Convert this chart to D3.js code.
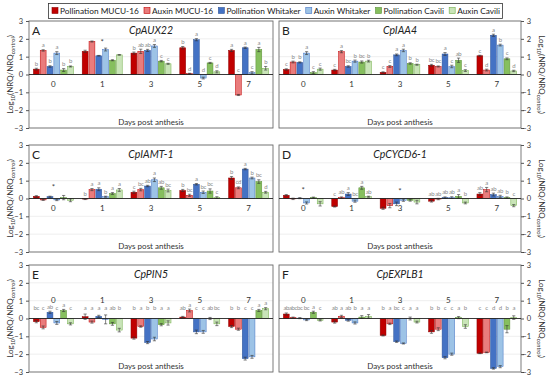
<!DOCTYPE html>
<html>
<head>
<meta charset="utf-8">
<script src="https://cdn.jsdelivr.net/npm/d3@7"></script>
<style>
  body { margin: 0; background: #fff; }
  text { font-family: Lato, "Open Sans", sans-serif; }
</style>
</head>
<body>
<svg id="chart" width="550" height="381"></svg>
<script>
// categories and series
const days = ["0", "1", "3", "5", "7"];
const seriesNames = ["Pollination MUCU-16", "Auxin MUCU-16", "Pollination Whitaker", "Auxin Whitaker", "Pollination Cavili", "Auxin Cavili"];
const seriesFill = ["#c00000", "#e97c7c", "#4472c4", "#9dc3e6", "#86bf5e", "#c9e4b8"];
const seriesStroke = ["#8c0000", "#c00000", "#2f5597", "#4472c4", "#5a8f37", "#70ad47"];
const yTicks = [-3, -2, -1, 0, 1, 2, 3];

// CpAUX22
const aux22Values = [
  [0.30, 1.35, 0.45, 1.20, 0.25, 0.45],
  [1.30, 1.85, 1.05, 1.40, 0.80, 1.10],
  [1.20, 1.30, 1.35, 1.60, 0.75, 0.60],
  [1.50, 0.05, 1.95, -0.20, 0.65, 0.15],
  [1.35, -1.15, 1.50, 0.10, 1.40, 0.35]];
const aux22Err = [
  [0.05, 0.04, 0.04, 0.08, 0.08, 0.03],
  [0.06, 0.03, 0.02, 0.08, 0.03, 0.02],
  [0.06, 0.12, 0.06, 0.08, 0.04, 0.03],
  [0.07, 0.02, 0.06, 0.05, 0.03, 0.06],
  [0.06, 0.03, 0.04, 0.06, 0.12, 0.10]];
const aux22Letters = [
  ["b", "a", "b", "a", "b", "b"],
  ["", "", "", "", "", ""],
  ["b", "ab", "ab", "a", "c", "c"],
  ["b", "d", "a", "d", "c", "d"],
  ["a", "c", "a", "c", "a", "b"]];
const aux22Stars = [{ day: "1", y: 1.8 }];

// CpIAA4
const iaa4Values = [
  [0.28, 0.70, 0.68, 1.20, 0.10, 0.30],
  [0.25, 1.28, 0.45, 0.75, 0.70, 0.75],
  [0.12, 0.45, 1.10, 1.35, 0.62, 0.55],
  [0.52, 0.45, 1.15, 0.45, 0.80, 0.22],
  [1.05, 0.25, 2.20, 1.65, 0.88, 0.20]];
const iaa4Err = [
  [0.04, 0.05, 0.03, 0.08, 0.06, 0.06],
  [0.04, 0.06, 0.04, 0.06, 0.06, 0.05],
  [0.03, 0.05, 0.05, 0.07, 0.04, 0.03],
  [0.05, 0.03, 0.08, 0.07, 0.12, 0.05],
  [0.03, 0.05, 0.06, 0.05, 0.05, 0.04]];
const iaa4Letters = [
  ["c", "b", "b", "a", "c", "c"],
  ["c", "a", "bc", "b", "bc", "b"],
  ["c", "c", "a", "a", "b", "b"],
  ["bc", "bc", "a", "c", "ab", "c"],
  ["c", "d", "a", "b", "c", "d"]];
const iaa4Stars = [];

// CpIAMT-1
const iamt1Values = [
  [0.12, -0.08, 0.10, -0.08, 0.05, -0.10],
  [-0.03, 0.50, 0.52, 0.10, 0.28, 0.48],
  [0.35, 0.50, 0.70, 1.05, 0.60, 0.45],
  [0.45, 0.18, 0.80, 0.35, 0.42, 0.05],
  [1.15, 0.60, 1.65, 1.15, 0.95, 0.35]];
const iamt1Err = [
  [0.04, 0.03, 0.03, 0.04, 0.12, 0.08],
  [0.03, 0.06, 0.08, 0.03, 0.05, 0.08],
  [0.06, 0.07, 0.04, 0.10, 0.08, 0.08],
  [0.06, 0.06, 0.04, 0.07, 0.12, 0.05],
  [0.08, 0.05, 0.04, 0.05, 0.10, 0.05]];
const iamt1Letters = [
  ["", "", "", "", "", ""],
  ["b", "a", "a", "b", "a", "a"],
  ["c", "bc", "ab", "a", "ab", "bc"],
  ["b", "bc", "a", "bc", "bc", "c"],
  ["b", "cd", "a", "b", "bc", "d"]];
const iamt1Stars = [{ day: "0", y: 0.65 }];

// CpCYCD6-1
const cycd61Values = [
  [0.18, -0.02, 0.02, -0.25, 0.05, -0.30],
  [-0.45, 0.05, 0.25, -0.15, 0.60, 0.10],
  [-0.55, -0.40, -0.30, -0.10, -0.10, -0.20],
  [-0.15, -0.03, 0.05, 0.05, 0.12, -0.25],
  [0.25, 0.50, 0.22, 0.12, 0.05, -0.40]];
const cycd61Err = [
  [0.04, 0.04, 0.03, 0.06, 0.03, 0.12],
  [0.03, 0.04, 0.08, 0.06, 0.08, 0.03],
  [0.06, 0.12, 0.10, 0.06, 0.05, 0.10],
  [0.05, 0.04, 0.04, 0.05, 0.10, 0.05],
  [0.08, 0.12, 0.08, 0.06, 0.04, 0.06]];
const cycd61Letters = [
  ["", "", "", "", "", ""],
  ["c", "ab", "a", "bc", "a", "ab"],
  ["", "", "", "", "", ""],
  ["ab", "ab", "ab", "ab", "a", "b"],
  ["ab", "a", "ab", "ab", "b", "c"]];
const cycd61Stars = [{ day: "0", y: 0.45 }, { day: "3", y: 0.4 }];

// CpPIN5
const pin5Values = [
  [-0.18, -0.50, 0.35, -0.25, 0.45, -0.30],
  [0.10, -0.20, 0.12, -0.05, -0.30, -0.65],
  [-1.10, -0.45, -1.35, -1.15, -0.35, -0.25],
  [0.08, 0.45, -0.75, -0.75, 0.00, -0.30],
  [-0.45, -0.60, -2.25, -2.15, 0.45, 0.55]];
const pin5Err = [
  [0.06, 0.08, 0.06, 0.08, 0.06, 0.06],
  [0.15, 0.06, 0.06, 0.25, 0.08, 0.10],
  [0.06, 0.04, 0.06, 0.10, 0.06, 0.12],
  [0.04, 0.08, 0.10, 0.08, 0.06, 0.10],
  [0.06, 0.06, 0.08, 0.08, 0.06, 0.06]];
const pin5Letters = [
  ["bc", "c", "ab", "c", "a", "c"],
  ["a", "a", "a", "a", "ab", "b"],
  ["b", "a", "b", "b", "a", "a"],
  ["ab", "a", "c", "c", "ab", "bc"],
  ["b", "b", "c", "c", "a", "a"]];
const pin5Stars = [];

// CpEXPLB1
const explb1Values = [
  [0.25, 0.05, 0.02, -0.08, 0.35, -0.10],
  [-0.20, 0.12, -0.10, -0.25, 0.08, 0.12],
  [-0.95, -0.30, -1.30, -1.40, 0.00, -0.20],
  [-0.75, -0.60, -2.20, -2.00, 0.05, -0.45],
  [-1.95, -1.90, -2.80, -2.70, -0.60, 0.05]];
const explb1Err = [
  [0.06, 0.03, 0.03, 0.04, 0.06, 0.04],
  [0.06, 0.06, 0.05, 0.06, 0.08, 0.10],
  [0.03, 0.04, 0.04, 0.03, 0.08, 0.05],
  [0.08, 0.08, 0.06, 0.06, 0.06, 0.10],
  [0.02, 0.02, 0.04, 0.06, 0.20, 0.10]];
const explb1Letters = [
  ["ab", "abc", "bc", "bc", "a", "c"],
  ["ab", "a", "ab", "b", "a", "a"],
  ["b", "a", "bc", "c", "a", "a"],
  ["b", "b", "c", "c", "a", "b"],
  ["c", "c", "d", "d", "b", "a"]];
const explb1Stars = [];

const panels = [
  { tag: "A", gene: "CpAUX22", values: aux22Values, err: aux22Err, letters: aux22Letters, stars: aux22Stars, col: 0, row: 0 },
  { tag: "B", gene: "CpIAA4", values: iaa4Values, err: iaa4Err, letters: iaa4Letters, stars: iaa4Stars, col: 1, row: 0 },
  { tag: "C", gene: "CpIAMT-1", values: iamt1Values, err: iamt1Err, letters: iamt1Letters, stars: iamt1Stars, col: 0, row: 1 },
  { tag: "D", gene: "CpCYCD6-1", values: cycd61Values, err: cycd61Err, letters: cycd61Letters, stars: cycd61Stars, col: 1, row: 1 },
  { tag: "E", gene: "CpPIN5", values: pin5Values, err: pin5Err, letters: pin5Letters, stars: pin5Stars, col: 0, row: 2, labelsAbove: true },
  { tag: "F", gene: "CpEXPLB1", values: explb1Values, err: explb1Err, letters: explb1Letters, stars: explb1Stars, col: 1, row: 2, labelsAbove: true }
];

const svg = d3.select("#chart");
const colX = [[29, 273], [279, 521]];
const rowY = [[21, 128], [145, 252], [265, 372]];

// legend: measure the labels, then spread them across the box
const legend = svg.append("g");
legend.append("rect")
  .attr("x", 48.5).attr("y", 3.5).attr("width", 454).attr("height", 15)
  .attr("fill", "#fff").attr("stroke", "#333").attr("stroke-width", 0.8);
const legendItems = legend.selectAll("g.item").data(seriesNames).join("g")
  .attr("class", "item");
const legendText = legendItems.append("text")
  .attr("y", 13.8).attr("font-size", 8.3).attr("fill", "#222")
  .text(d => d);
const widths = [];
legendText.each(function () { widths.push(this.getComputedTextLength() + 8); });
const gap = (448 - d3.sum(widths)) / (seriesNames.length - 1);
let cursor = 52;
const starts = widths.map(w => { const s = cursor; cursor += w + gap; return s; });
legendText.attr("x", (d, i) => starts[i] + 8);
legendItems.append("rect")
  .attr("x", (d, i) => starts[i]).attr("y", 7.5).attr("width", 6).attr("height", 6)
  .attr("fill", (d, i) => seriesFill[i]).attr("stroke", (d, i) => seriesStroke[i]).attr("stroke-width", 0.6);

function drawPanel(p) {
  const [x0, x1] = colX[p.col];
  const [top, bottom] = rowY[p.row];
  const g = svg.append("g");

  const y = d3.scaleLinear().domain([-3, 3]).range([bottom, top]);
  const xGroup = d3.scaleBand().domain(days).range([x0, x1]);
  const bw = xGroup.bandwidth();
  const xBar = d3.scaleBand().domain(d3.range(6)).range([bw * 0.09, bw * 0.91]).paddingInner(0.14);

  // gridlines
  g.selectAll("line.grid").data(yTicks.filter(t => t !== 0)).join("line")
    .attr("x1", x0).attr("x2", x1)
    .attr("y1", d => y(d)).attr("y2", d => y(d))
    .attr("stroke", "#e4e4e4").attr("stroke-width", 0.6);

  // box
  g.append("rect")
    .attr("x", x0).attr("y", top).attr("width", x1 - x0).attr("height", bottom - top)
    .attr("fill", "none").attr("stroke", "#6e6e6e").attr("stroke-width", 0.9);

  // axis
  const axis = p.col === 0 ? d3.axisLeft(y) : d3.axisRight(y);
  const ax = g.append("g")
    .attr("transform", `translate(${p.col === 0 ? x0 : x1},0)`)
    .call(axis.tickValues(yTicks).tickSize(3).tickSizeOuter(0).tickFormat(d3.format("d")));
  ax.select(".domain").remove();
  ax.selectAll(".tick line").attr("stroke", "#555");
  ax.selectAll(".tick text")
    .attr("font-family", "Lato, sans-serif").attr("font-size", 7.5).attr("fill", "#333");
  if (p.col === 1) {
    ax.selectAll(".tick text").attr("text-anchor", "end").attr("x", 10);
  } else {
    ax.selectAll(".tick text").attr("x", -6);
  }

  // axis title
  const midY = (top + bottom) / 2;
  const tx = p.col === 0 ? 10 : 542;
  const title = g.append("text")
    .attr("transform", `translate(${tx},${midY}) rotate(${p.col === 0 ? -90 : 90})`)
    .attr("text-anchor", "middle").attr("font-size", 8).attr("fill", "#333")
    .attr("dy", "0.35em");
  title.append("tspan").text("Log");
  title.append("tspan").attr("font-size", 5.5).attr("dy", 2).text("10");
  title.append("tspan").attr("dy", -2).text("(NRQ/NRQ");
  title.append("tspan").attr("font-size", 5.5).attr("dy", 2).text("control");
  title.append("tspan").attr("dy", -2).text(")");

  // bars
  const groups = g.selectAll("g.day").data(days).join("g")
    .attr("transform", d => `translate(${xGroup(d)},0)`);

  groups.each(function (day, di) {
    const grp = d3.select(this);
    const rows = p.values[di].map((v, si) => ({ v, e: p.err[di][si], l: p.letters[di][si], si }));
    grp.selectAll("rect").data(rows).join("rect")
      .attr("x", d => xBar(d.si))
      .attr("width", xBar.bandwidth())
      .attr("y", d => y(Math.max(d.v, 0)))
      .attr("height", d => Math.abs(y(d.v) - y(0)))
      .attr("fill", d => seriesFill[d.si])
      .attr("stroke", d => seriesStroke[d.si]).attr("stroke-width", 0.5);

    // error bars
    const eb = grp.selectAll("g.err").data(rows).join("g").attr("class", "err");
    const cx = d => xBar(d.si) + xBar.bandwidth() / 2;
    eb.append("line")
      .attr("x1", cx).attr("x2", cx)
      .attr("y1", d => y(d.v - d.e)).attr("y2", d => y(d.v + d.e))
      .attr("stroke", "#333").attr("stroke-width", 0.6);
    [1, -1].forEach(s => {
      eb.append("line")
        .attr("x1", d => cx(d) - 1.6).attr("x2", d => cx(d) + 1.6)
        .attr("y1", d => y(d.v + s * d.e)).attr("y2", d => y(d.v + s * d.e))
        .attr("stroke", "#333").attr("stroke-width", 0.6);
    });

    // letters
    grp.selectAll("text.letter").data(rows.filter(d => d.l)).join("text")
      .attr("class", "letter")
      .attr("x", cx)
      .attr("y", d => {
        const t = y(Math.max(d.v + d.e, 0)) - 2.5;
        return p.labelsAbove ? Math.min(t, y(0) - 9) : t;
      })
      .attr("text-anchor", "middle").attr("font-size", 6).attr("fill", "#8a8a8a")
      .attr("letter-spacing", -0.3)
      .text(d => d.l);
  });

  // zero line
  g.append("line")
    .attr("x1", x0).attr("x2", x1).attr("y1", y(0)).attr("y2", y(0))
    .attr("stroke", "#222").attr("stroke-width", 0.9);

  // category labels
  g.selectAll("text.cat").data(days).join("text")
    .attr("x", d => xGroup(d) + bw / 2)
    .attr("y", p.labelsAbove ? y(0) - 16 : y(0) + 12)
    .attr("text-anchor", "middle").attr("font-size", 8).attr("fill", "#333")
    .text(d => d);

  // stars
  g.selectAll("text.star").data(p.stars).join("text")
    .attr("x", d => xGroup(d.day) + bw / 2)
    .attr("y", d => y(d.y) + 3)
    .attr("text-anchor", "middle").attr("font-size", 8).attr("fill", "#444")
    .text("*");

  // panel tag and gene name
  g.append("text").attr("x", x0 + 3).attr("y", top + 14)
    .attr("font-size", 12).attr("fill", "#222").text(p.tag);
  g.append("text").attr("x", (x0 + x1) / 2).attr("y", top + 13)
    .attr("text-anchor", "middle").attr("font-size", 10.5).attr("font-style", "italic")
    .attr("fill", "#222").text(p.gene);
  g.append("text").attr("x", (x0 + x1) / 2).attr("y", bottom - 3)
    .attr("text-anchor", "middle").attr("font-size", 8).attr("fill", "#333")
    .text("Days post anthesis");
}

panels.forEach(drawPanel);
</script>
</body>
</html>
